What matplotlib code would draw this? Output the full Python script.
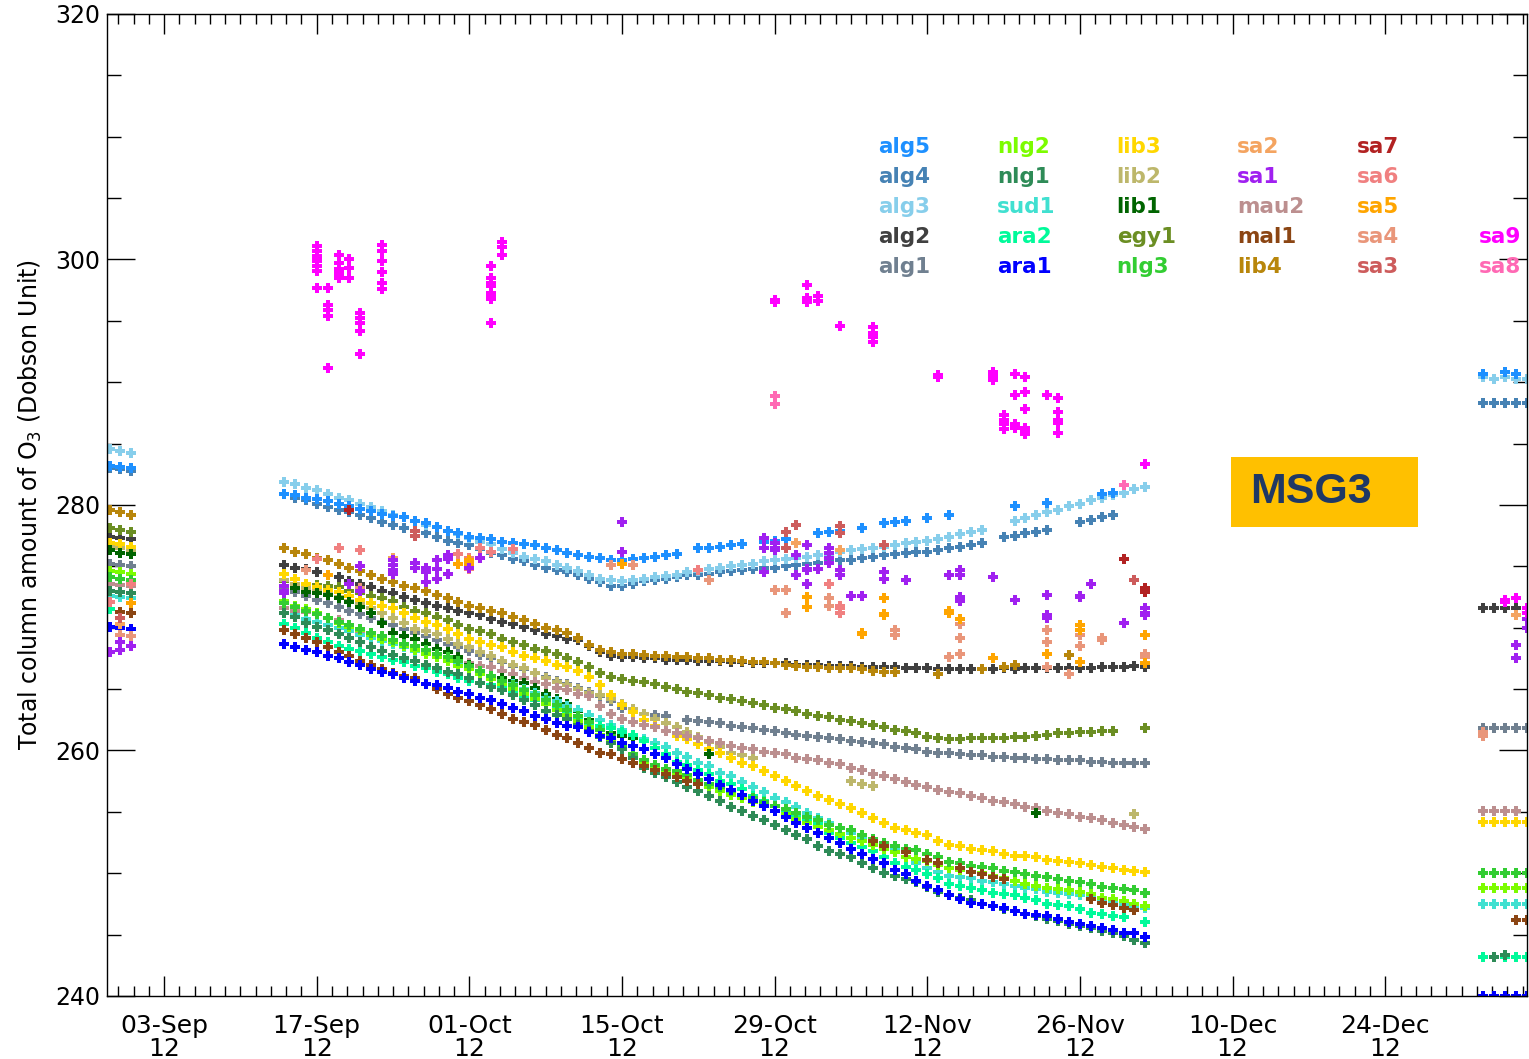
import numpy as np
import matplotlib
matplotlib.use("Agg")
import matplotlib.pyplot as plt
import matplotlib.dates as mdates
from matplotlib.patches import Rectangle

nan = np.nan

# observation days: Aug 29-31, Sep 14 - Dec 2, Jan 2-6
days = np.concatenate([
    np.arange("2012-08-29", "2012-09-01", dtype="datetime64[D]"),
    np.arange("2012-09-14", "2012-12-03", dtype="datetime64[D]"),
    np.arange("2013-01-02", "2013-01-07", dtype="datetime64[D]"),
])
start = np.datetime64("2012-09-14")

# per-station series (aug | sep14..dec2 | jan), Dobson units
alg5 = [283.2, 283.1, 283.0,
        280.9, 280.8, 280.6, 280.5, 280.3, 280.1, 279.9, 279.7, 279.5, 279.3,
        279.1, 279.0, 278.7, 278.5, 278.2, 277.9, 277.7, 277.4, 277.3, 277.2,
        277.0, 276.9, 276.8, 276.7, 276.5, 276.3, 276.1, 275.9, 275.8, 275.7,
        275.5, 275.5, 275.6, 275.7, 275.8, 275.9, 276.0, nan, 276.5, 276.5,
        276.6, 276.7, 276.8, nan, 277.0, 277.1, 277.2, nan, nan, 277.7,
        277.8, 277.9, nan, 278.1, nan, 278.5, 278.6, 278.7, nan, 278.9,
        nan, 279.2, nan, nan, nan, nan, nan, 279.9, nan, nan,
        280.2, nan, nan, nan, nan, 280.9, 281.0, nan, nan, nan,
        290.7, nan, 290.8, 290.7, nan]
alg4 = [283.0, 282.9, 282.8,
        280.9, 280.6, 280.4, 280.1, 279.8, 279.6, 279.4, 279.2, 278.9, 278.6,
        278.4, 278.1, 277.9, 277.7, 277.4, 277.1, 276.9, 276.7, 276.4, 276.1,
        275.9, 275.6, 275.4, 275.1, 274.9, 274.7, 274.5, 274.3, 274.0, 273.7,
        273.4, 273.4, 273.6, 273.8, 273.9, 274.0, 274.1, 274.3, 274.3, 274.4,
        274.5, 274.6, 274.7, 274.8, 274.9, 274.9, 275.0, 275.1, 275.2, 275.3,
        275.4, 275.5, 275.5, 275.7, 275.8, 275.9, 276.0, 276.1, 276.2, 276.2,
        276.3, 276.5, 276.6, 276.7, 276.9, nan, 277.4, 277.5, 277.7, 277.8,
        278.0, nan, nan, 278.6, 278.8, 279.0, 279.2, nan, nan, nan,
        288.3, 288.3, 288.3, 288.3, 288.3]
alg3 = [284.6, 284.4, 284.2,
        281.9, 281.7, 281.4, 281.2, 280.9, 280.6, 280.4, 280.1, 279.8, 279.5,
        279.2, 279.0, 278.7, 278.4, 278.2, 277.9, 277.6, 277.3, 277.0, 276.8,
        276.4, 276.1, 275.8, 275.6, 275.4, 275.1, 274.9, 274.6, 274.3, 274.0,
        273.9, 273.8, 273.9, 274.0, 274.1, 274.2, 274.3, 274.5, 274.6, 274.8,
        274.9, 275.0, 275.1, 275.2, 275.4, 275.5, 275.6, 275.7, 275.8, 275.9,
        276.0, 276.2, 276.3, 276.4, 276.5, 276.6, 276.7, 276.9, 277.0, 277.1,
        277.2, 277.4, 277.6, 277.8, 278.0, nan, nan, 278.7, 278.9, 279.2,
        279.4, 279.6, 279.9, 280.1, 280.4, 280.6, 280.8, 281.0, 281.3, 281.5,
        290.4, 290.3, 290.4, 290.3, 290.3]
alg2 = [277.4, 277.3, 277.2,
        275.1, 274.9, 274.8, 274.5, 274.3, 274.1, 273.8, 273.6, 273.3, 273.0,
        272.8, 272.5, 272.3, 272.0, 271.8, 271.6, 271.4, 271.2, 271.0, 270.7,
        270.5, 270.3, 270.1, 269.8, 269.5, 269.3, 269.1, 269.0, 268.5, 268.0,
        267.7, 267.6, 267.6, 267.5, 267.5, 267.4, 267.4, 267.4, 267.3, 267.3,
        267.3, 267.2, 267.2, 267.1, 267.1, 267.1, 267.1, 267.0, 267.0, 267.0,
        266.9, 266.9, 266.9, 266.8, 266.8, 266.8, 266.8, 266.7, 266.7, 266.7,
        266.6, 266.6, 266.6, 266.6, 266.6, 266.6, 266.7, 266.6, 266.7, 266.7,
        266.7, 266.7, 266.7, 266.7, 266.7, 266.8, 266.8, 266.8, 266.9, 266.8,
        271.6, 271.6, 271.6, 271.6, 271.6]
alg1 = [275.2, 275.1, 275.0,
        273.2, 272.9, 272.6, 272.3, 272.0, 271.7, 271.4, 271.1, 270.8, 270.5,
        270.2, 269.9, 269.6, 269.3, 269.0, 268.7, 268.4, 268.1, 267.8, 267.5,
        267.2, 266.9, 266.6, 266.3, 266.0, 265.7, 265.4, 265.1, 264.8, 264.4,
        264.0, 263.5, 263.2, 263.0, 262.9, 262.8, nan, 262.5, 262.4, 262.3,
        262.2, 262.0, 261.9, 261.8, 261.7, 261.6, 261.4, 261.3, 261.2, 261.1,
        261.0, 260.9, 260.8, 260.7, 260.6, 260.5, 260.3, 260.2, 260.1, 259.9,
        259.8, 259.8, 259.7, 259.6, 259.6, 259.5, 259.5, 259.4, 259.4, 259.3,
        259.3, 259.2, 259.2, 259.2, 259.1, 259.1, 259.0, 259.0, 259.0, 259.0,
        261.8, 261.8, 261.8, 261.8, 261.8]
lib4 = [279.6, 279.4, 279.2,
        276.5, 276.2, 276.0, 275.7, 275.5, 275.2, 274.9, 274.6, 274.3, 274.0,
        273.7, 273.4, 273.2, 273.0, 272.7, 272.4, 272.1, 271.8, 271.6, 271.4,
        271.2, 270.9, 270.6, 270.3, 270.0, 269.8, 269.6, 269.2, 268.6, 268.2,
        268.0, 267.9, 267.9, 267.8, 267.7, 267.7, 267.6, 267.6, 267.5, 267.5,
        267.4, 267.4, 267.3, 267.2, 267.2, 267.1, 267.0, 266.9, 266.8, 266.8,
        266.7, 266.7, 266.7, 266.6, 266.5, 266.4, 266.4, nan, nan, nan,
        266.2, nan, nan, nan, 266.6, nan, 266.8, 267.0, nan, nan,
        nan, nan, 267.8, nan, nan, nan, nan, nan, nan, nan,
        nan, nan, nan, nan, nan]
egy1 = [278.1, 278.0, 277.8,
        273.8, 273.6, 273.5, 273.5, 273.4, 273.3, 273.0, 272.8, 272.6, 272.4,
        272.2, 271.7, 271.4, 271.2, 270.9, 270.6, 270.2, 269.9, 269.7, 269.5,
        269.1, 268.8, 268.6, 268.3, 268.1, 267.9, 267.5, 267.2, 266.8, 266.3,
        266.0, 265.8, 265.7, 265.6, 265.4, 265.2, 265.0, 264.8, 264.7, 264.5,
        264.3, 264.2, 264.0, 263.9, 263.7, 263.5, 263.4, 263.2, 263.0, 262.8,
        262.7, 262.5, 262.4, 262.2, 262.1, 261.9, 261.7, 261.6, 261.4, 261.1,
        261.0, 260.9, 260.9, 261.0, 261.0, 261.0, 261.0, 261.1, 261.1, 261.2,
        261.3, 261.4, 261.4, 261.5, 261.5, 261.6, 261.6, nan, nan, 261.8,
        nan, nan, nan, nan, nan]
lib3 = [276.9, 276.8, 276.6,
        274.4, 274.0, 273.6, 273.3, 273.1, 272.9, 272.6, 272.3, 272.0, 271.8,
        271.6, 271.2, 270.8, 270.5, 270.2, 269.9, 269.5, 269.1, 268.8, 268.6,
        268.4, 268.0, 267.7, 267.5, 267.3, 267.0, 266.8, 266.5, 266.0, 265.3,
        264.5, 263.7, 263.1, 262.5, 262.0, 261.6, 261.2, 260.9, 260.5, 260.1,
        259.8, 259.4, 259.0, 258.7, 258.3, 257.9, 257.5, 257.1, 256.7, 256.3,
        256.0, 255.6, 255.3, 254.9, 254.5, 254.1, 253.7, 253.5, 253.3, 253.1,
        252.6, 252.3, 252.2, 252.0, 251.9, 251.8, 251.6, 251.4, 251.4, 251.3,
        251.1, 251.0, 250.9, 250.8, 250.7, 250.5, 250.4, 250.3, 250.2, 250.1,
        254.2, 254.2, 254.2, 254.2, 254.2]
lib2 = [276.6, 276.5, 276.3,
        273.9, 273.6, 273.2, 273.0, 272.8, 272.5, 272.2, 271.9, 271.6, 271.2,
        270.8, 270.4, 269.9, 269.7, 269.5, 269.1, 268.7, 268.4, 268.0, 267.7,
        267.3, 267.0, 266.7, 266.3, 265.9, 265.6, 265.3, 265.0, 264.7, 264.5,
        264.2, 263.8, 263.4, 263.0, 262.6, 262.2, 261.9, 261.5, 261.1, 260.7,
        260.3, 259.8, 259.6, 259.4, nan, nan, nan, nan, nan, nan,
        nan, nan, 257.5, 257.3, 257.1, nan, nan, nan, nan, nan,
        nan, nan, nan, nan, nan, nan, nan, nan, nan, nan,
        nan, nan, nan, nan, nan, nan, nan, nan, 254.8, nan,
        nan, nan, nan, nan, nan]
lib1 = [276.3, 276.1, 276.0,
        273.4, 273.2, 272.9, 272.8, 272.7, 272.4, 272.1, 271.7, 271.2, 270.4,
        269.6, 269.3, 269.1, 268.7, 268.3, 268.0, 267.6, 267.0, 266.3, 266.1,
        265.9, 265.7, 265.5, 265.1, 264.6, 264.2, 263.8, 263.2, 262.5, 261.9,
        261.4, 261.2, 261.0, 260.8, 260.6, nan, nan, nan, nan, 259.7,
        nan, nan, nan, nan, nan, nan, nan, nan, nan, nan,
        nan, nan, nan, nan, nan, nan, nan, nan, nan, nan,
        nan, nan, nan, nan, nan, nan, nan, nan, nan, 254.9,
        nan, nan, nan, nan, nan, nan, nan, nan, nan, nan,
        nan, nan, nan, nan, nan]
mau2 = [273.6, 273.5, 273.4,
        271.6, 271.4, 271.3, 271.1, 270.8, 270.6, 270.0, 269.6, 269.3, 269.0,
        268.7, 268.4, 268.2, 268.0, 267.7, 267.5, 267.3, 267.1, 266.9, 266.8,
        266.5, 266.2, 265.9, 265.6, 265.4, 265.1, 264.9, 264.6, 264.4, 263.6,
        263.0, 262.6, 262.3, 262.1, 261.9, 261.6, 261.4, 261.2, 261.0, 260.8,
        260.6, 260.4, 260.2, 260.1, 259.9, 259.8, 259.7, 259.4, 259.3, 259.2,
        259.0, 258.9, 258.6, 258.4, 258.1, 257.9, 257.7, 257.4, 257.2, 257.0,
        256.8, 256.6, 256.5, 256.3, 256.1, 255.9, 255.8, 255.6, 255.4, 255.3,
        255.1, 254.9, 254.8, 254.6, 254.5, 254.3, 254.1, 253.9, 253.8, 253.6,
        255.1, 255.1, 255.1, 255.1, nan]
nlg3 = [274.1, 274.0, 273.9,
        272.0, 271.7, 271.4, 271.1, 270.8, 270.5, 270.2, 269.9, 269.6, 269.3,
        269.0, 268.7, 268.5, 268.2, 267.9, 267.6, 267.3, 266.9, 266.5, 266.1,
        265.7, 265.3, 264.9, 264.5, 264.1, 263.7, 263.3, 262.8, 262.3, 261.7,
        261.2, 260.4, 259.7, 259.2, 258.8, 258.5, 258.3, 258.0, 257.6, 257.3,
        257.0, 256.7, 256.4, 256.1, 255.8, 255.5, 255.2, 254.9, 254.6, 254.3,
        253.9, 253.7, 253.5, 253.1, 252.8, 252.5, 252.2, 252.0, 251.9, 251.6,
        251.3, 250.9, 250.8, 250.6, 250.5, 250.4, 250.2, 250.1, 249.9, 249.8,
        249.7, 249.5, 249.4, 249.3, 249.1, 248.9, 248.8, 248.7, 248.6, 248.4,
        250.0, 250.0, 250.0, 250.0, 250.0]
nlg2 = [274.6, 274.5, 274.4,
        272.2, 271.8, 271.5, 271.2, 270.8, 270.4, 270.1, 269.8, 269.4, 269.1,
        268.8, 268.5, 268.2, 267.9, 267.6, 267.3, 266.9, 266.6, 266.2, 265.8,
        265.4, 265.0, 264.6, 264.2, 263.8, 263.3, 262.9, 262.4, 261.9, 261.3,
        260.8, 260.2, 259.6, 259.1, 258.6, 258.3, 258.0, 257.7, 257.3, 257.0,
        256.7, 256.4, 256.1, 255.8, 255.5, 255.1, 254.8, 254.4, 254.1, 253.8,
        253.5, 253.2, 252.9, 252.6, 252.3, 252.0, 251.7, 251.3, 251.2, 251.0,
        250.7, 250.4, 250.3, 250.1, 250.0, 249.8, 249.6, 249.4, 249.1, 249.0,
        248.8, 248.7, 248.6, 248.5, 248.3, 248.0, 247.9, 247.7, 247.5, 247.3,
        248.8, 248.8, 248.8, 248.8, 248.8]
sud1 = [272.6, 272.5, 272.4,
        271.2, 271.0, 270.7, 270.5, 270.2, 270.0, 269.7, 269.4, 269.2, 268.9,
        268.7, 268.4, 268.1, 267.9, 267.6, 267.3, 267.0, 266.7, 266.4, 266.1,
        265.7, 265.4, 265.0, 264.7, 264.3, 264.0, 263.6, 263.3, 262.9, 262.5,
        262.1, 261.7, 261.3, 260.9, 260.6, 260.3, 259.8, 259.5, 259.0, 258.7,
        258.2, 257.9, 257.4, 257.0, 256.6, 256.1, 255.8, 255.4, 254.9, 254.5,
        254.1, 253.7, 253.3, 252.9, 252.6, 252.2, 252.0, 251.3, 250.8, 250.4,
        250.1, 249.8, 249.7, 249.6, 249.4, 249.3, 249.1, 249.0, 248.8, 248.7,
        248.5, 248.4, 248.3, 248.2, 248.0, 247.7, 247.6, 247.5, 247.3, 247.2,
        247.5, 247.5, 247.5, 247.5, 247.5]
ara2 = [271.5, 271.3, nan,
        270.3, 270.0, 269.6, 269.2, 268.8, 268.5, 268.3, 268.1, 267.9, 267.6,
        267.4, 267.2, 266.9, 266.7, 266.4, 266.2, 265.9, 265.7, 265.5, 265.3,
        265.1, 264.8, 264.4, 264.1, 263.8, 263.4, 263.0, 262.6, 262.2, 262.0,
        261.8, 261.5, 261.3, 260.8, 260.2, 259.7, 259.1, 258.8, 258.4, 258.1,
        257.5, 257.3, 256.9, 256.3, 255.9, 255.5, 255.1, 254.7, 254.3, 254.0,
        253.3, 252.9, 252.5, 252.1, 251.8, 251.3, 250.8, 250.5, 250.3, 249.9,
        249.6, 249.1, 249.0, 248.8, 248.6, 248.4, 248.3, 248.2, 248.0, 247.8,
        247.5, 247.4, 247.3, 247.1, 246.8, 246.7, 246.5, 246.4, nan, 246.0,
        243.2, 243.2, 243.2, 243.2, 243.2]
nlg1 = [273.0, 272.9, 272.8,
        271.2, 270.9, 270.4, 270.1, 269.8, 269.5, 269.2, 268.8, 268.4, 268.1,
        267.8, 267.5, 267.3, 267.0, 266.7, 266.4, 266.2, 265.9, 265.5, 265.2,
        264.9, 264.5, 264.1, 263.7, 263.2, 262.9, 262.6, 262.1, 261.6, 261.1,
        260.6, 260.1, 259.4, 258.6, 258.2, 257.8, 257.4, 257.0, 256.7, 256.3,
        255.9, 255.4, 255.1, 254.7, 254.3, 253.9, 253.5, 253.1, 252.8, 252.2,
        251.8, 251.6, 251.3, 250.8, 250.4, 250.0, 249.8, 249.5, 249.3, 248.9,
        248.5, 248.2, 248.0, 247.8, 247.5, 247.3, 247.1, 246.9, 246.7, 246.5,
        246.3, 246.1, 245.9, 245.7, 245.5, 245.3, 245.1, 244.9, 244.6, 244.3,
        nan, 243.2, 243.3, nan, nan]
ara1 = [270.1, 270.0, 269.9,
        268.7, 268.4, 268.2, 268.0, 267.7, 267.5, 267.2, 267.0, 266.6, 266.4,
        266.2, 265.9, 265.7, 265.4, 265.3, 265.1, 264.8, 264.6, 264.3, 264.1,
        263.8, 263.5, 263.2, 262.8, 262.6, 262.2, 262.0, 261.9, 261.5, 261.2,
        261.0, 260.6, 260.4, 260.1, 259.7, 259.4, 258.9, 258.5, 258.1, 257.7,
        257.2, 256.8, 256.4, 255.9, 255.5, 255.1, 254.6, 254.1, 253.7, 253.3,
        252.9, 252.5, 252.0, 251.6, 251.2, 250.8, 250.3, 249.9, 249.4, 249.0,
        248.6, 248.2, 247.9, 247.6, 247.5, 247.3, 247.2, 246.9, 246.7, 246.6,
        246.5, 246.3, 246.0, 245.9, 245.7, 245.5, 245.4, 245.1, 245.1, 244.8,
        240.0, 240.0, 240.0, 240.0, 240.0]
mal1 = [nan, 271.3, 271.2,
        269.8, 269.5, 269.2, 268.8, 268.4, 268.0, 267.7, 267.3, 267.0, 266.6,
        266.3, 266.1, 265.9, 265.4, 265.0, 264.6, 264.3, 264.0, 263.7, 263.4,
        263.0, 262.6, 262.3, 262.1, 261.7, 261.3, 261.0, 260.6, 260.2, 259.8,
        259.7, 259.3, 259.0, 258.7, 258.4, 258.1, 257.8, 257.5, 257.3, nan,
        nan, nan, nan, nan, nan, nan, nan, nan, nan, nan,
        nan, nan, nan, nan, 252.6, 252.2, nan, 251.7, nan, 251.1,
        250.8, nan, 250.4, 250.1, 249.9, 249.7, 249.5, nan, nan, nan,
        nan, nan, nan, nan, 247.9, 247.6, 247.4, 247.2, 247.0, nan,
        nan, nan, nan, 246.2, 246.2]

# sparse stations: day offset from 14 Sep 2012, value
sa1_day = [-16, -15, -15, -14, 0, 0, 0, 6, 7, 7, 10, 10, 10, 10, 12, 12,
           13, 13, 13, 14, 14, 14, 15, 15, 15, 17, 18, 31, 31, 44, 44, 44,
           45, 45, 45, 47, 47, 48, 48, 48, 48, 49, 50, 50, 50, 50, 51, 51,
           52, 53, 55, 55, 57, 61, 62, 62, 62, 62, 65, 67, 70, 70, 70, 73,
           73, 74, 77, 79, 79, 79, 113, 113, 114, 114]
sa1_val = [268.0, 268.8, 268.2, 268.5, 273.4, 273.0, 272.8, 273.6, 275.0,
           273.0, 275.5, 275.1, 274.7, 274.4, 275.3, 274.9, 274.9, 274.5,
           273.7, 275.5, 274.8, 274.0, 275.9, 275.6, 274.4, 274.9, 275.7,
           278.6, 276.2, 277.3, 276.5, 274.5, 276.9, 276.5, 276.3, 275.9,
           274.3, 276.7, 274.8, 274.7, 273.6, 274.8, 276.5, 276.1, 275.7,
           275.3, 274.7, 274.3, 272.6, 272.6, 274.5, 274.0, 273.9, 274.3,
           274.7, 274.3, 272.5, 272.2, 274.1, 272.3, 272.7, 271.0, 270.8,
           272.6, 272.5, 273.6, 270.4, 271.6, 271.2, 271.0, 268.6, 267.5,
           270.7, 270.0]
sa2_day = [-15, 10, 47, 51, 113]
sa2_val = [270.3, 275.7, 276.9, 276.3, 271.0]
sa3_day = [-15, 12, 12, 46, 46, 47, 51, 51, 55, 73, 78]
sa3_val = [270.8, 277.9, 277.5, 277.8, 276.5, 278.4, 278.3, 277.7, 276.7,
           272.6, 273.9]
sa4_day = [-15, -14, 2, 7, 30, 32, 39, 45, 46, 46, 50, 50, 56, 56, 61, 62,
           62, 62, 70, 70, 70, 72, 73, 73, 75, 75, 79, 79, 110, 110]
sa4_val = [269.4, 269.3, 274.7, 273.2, 275.1, 275.1, 273.9, 273.1, 273.1,
           271.2, 272.4, 271.8, 269.8, 269.4, 267.6, 270.3, 269.2, 267.9,
           269.8, 268.8, 266.8, 266.2, 269.4, 268.5, 269.2, 269.0, 267.9,
           267.6, 261.5, 261.2]
sa5_day = [-14, 4, 16, 17, 17, 31, 48, 48, 53, 53, 55, 55, 55, 61, 61, 62,
           65, 70, 73, 73, 73, 79, 79]
sa5_val = [272.0, 274.3, 275.2, 275.5, 275.2, 275.2, 272.5, 271.7, 269.6,
           269.5, 272.4, 271.1, 271.0, 271.4, 271.2, 270.7, 267.5, 267.9,
           270.2, 269.8, 267.2, 269.4, 267.1]
sa6_day = [-16, -14, 3, 5, 7, 16, 17, 17, 18, 19, 21, 38, 50, 51, 51, 51]
sa6_val = [272.1, 273.6, 275.6, 276.5, 276.3, 276.0, 275.7, 274.8, 276.5,
           276.2, 276.4, 274.7, 273.6, 271.8, 271.6, 271.2]
sa7_day = [6, 77, 79, 79]
sa7_val = [279.6, 275.6, 273.2, 272.9]
sa8_day = [45, 45, 77]
sa8_val = [288.9, 288.2, 281.6]
sa9_day = [3, 3, 3, 3, 3, 3, 3, 3, 4, 4, 4, 4, 4, 5, 5, 5, 5, 5, 5, 6, 6, 6,
           7, 7, 7, 7, 7, 9, 9, 9, 9, 9, 9, 19, 19, 19, 19, 19, 19, 19, 19,
           20, 20, 20, 45, 45, 48, 48, 48, 49, 49, 51, 54, 54, 54, 54, 60,
           60, 65, 65, 65, 66, 66, 66, 66, 67, 67, 67, 67, 68, 68, 68, 68,
           68, 68, 70, 71, 71, 71, 71, 71, 79, 112, 112, 113, 114, 114]
sa9_val = [301.1, 300.7, 300.3, 300.1, 299.9, 299.5, 299.1, 297.7, 297.7,
           296.3, 295.9, 295.4, 291.2, 300.4, 299.7, 299.2, 298.9, 298.7,
           298.5, 300.0, 299.3, 298.5, 295.6, 295.2, 294.8, 294.2, 292.3,
           301.2, 300.7, 299.9, 299.0, 298.1, 297.6, 299.5, 298.5, 298.1,
           297.8, 297.3, 297.1, 296.8, 294.8, 301.4, 301.0, 300.4, 296.7,
           296.5, 297.9, 296.9, 296.5, 297.0, 296.6, 294.6, 294.5, 294.0,
           293.7, 293.3, 290.6, 290.4, 290.8, 290.5, 290.2, 287.3, 286.9,
           286.6, 286.2, 290.7, 289.0, 286.6, 286.3, 290.4, 289.2, 287.8,
           286.3, 286.1, 285.8, 289.0, 288.7, 287.6, 286.9, 286.7, 285.9,
           283.3, 272.3, 272.1, 272.4, 271.6, 271.2]

colors = {
    "alg5": "#1e90ff", "alg4": "#4682b4", "alg3": "#87ceeb", "alg2": "#404040",
    "alg1": "#708090", "nlg2": "#7cfc00", "nlg1": "#2e8b57", "sud1": "#40e0d0",
    "ara2": "#00fa9a", "ara1": "#0000ff", "lib3": "#ffd700", "lib2": "#bdb76b",
    "lib1": "#006400", "egy1": "#6b8e23", "nlg3": "#32cd32", "sa2": "#f4a460",
    "sa1": "#a020f0", "mau2": "#bc8f8f", "mal1": "#8b4513", "lib4": "#b8860b",
    "sa7": "#b22222", "sa6": "#f08080", "sa5": "#ffa500", "sa4": "#e9967a",
    "sa3": "#cd5c5c", "sa9": "#ff00ff", "sa8": "#ff69b4",
}

daily = [("alg1", alg1), ("alg2", alg2), ("lib4", lib4), ("egy1", egy1),
         ("lib2", lib2), ("lib3", lib3), ("mau2", mau2), ("lib1", lib1),
         ("sud1", sud1), ("ara2", ara2), ("nlg2", nlg2), ("nlg3", nlg3),
         ("nlg1", nlg1), ("mal1", mal1), ("ara1", ara1),
         ("alg4", alg4), ("alg3", alg3), ("alg5", alg5)]
sparse = [("sa2", sa2_day, sa2_val), ("sa3", sa3_day, sa3_val),
          ("sa4", sa4_day, sa4_val), ("sa6", sa6_day, sa6_val),
          ("sa5", sa5_day, sa5_val), ("sa7", sa7_day, sa7_val),
          ("sa1", sa1_day, sa1_val), ("sa8", sa8_day, sa8_val),
          ("sa9", sa9_day, sa9_val)]

legend_cols = [["alg5", "alg4", "alg3", "alg2", "alg1"],
               ["nlg2", "nlg1", "sud1", "ara2", "ara1"],
               ["lib3", "lib2", "lib1", "egy1", "nlg3"],
               ["sa2", "sa1", "mau2", "mal1", "lib4"],
               ["sa7", "sa6", "sa5", "sa4", "sa3"],
               [None, None, None, "sa9", "sa8"]]

fig = plt.figure(figsize=(15.29, 10.59), dpi=100)
ax = fig.add_axes([0.0700, 0.0595, 0.9287, 0.9273])

mk = dict(marker="P", linestyle="none", markersize=7.5, markeredgewidth=0)
for name, vals in daily:
    ax.plot(days, vals, color=colors[name], **mk)
for name, d, v in sparse:
    ax.plot(start + np.array(d), v, color=colors[name], **mk)

# station legend as coloured labels
col_x = [0.543, 0.627, 0.711, 0.796, 0.880, 0.966]
row_y = [0.8646, 0.8340, 0.8035, 0.7730, 0.7424]
for cx, names in zip(col_x, legend_cols):
    for ry, name in zip(row_y, names):
        if name:
            ax.text(cx, ry, name, transform=ax.transAxes, color=colors[name],
                    fontsize=15.5, fontweight="bold", va="center", ha="left")

ax.add_patch(Rectangle((0.7915, 0.4776), 0.1317, 0.0713, transform=ax.transAxes,
                       facecolor="#ffc000", edgecolor="none", zorder=3))
ax.text(0.805, 0.513, "MSG3", transform=ax.transAxes, color="#1f3864",
        fontsize=31, fontweight="bold", family="Liberation Sans",
        va="center", ha="left", zorder=4)

t0 = mdates.date2num(np.datetime64("2012-09-03"))
ax.set_xlim(t0 - 5.23, t0 + 125.0)
ax.set_ylim(240, 320)
ax.xaxis.set_major_locator(matplotlib.ticker.FixedLocator(t0 + 14 * np.arange(9)))
ax.xaxis.set_minor_locator(matplotlib.ticker.FixedLocator(t0 + 1.4 * np.arange(-3, 90)))
ax.xaxis.set_major_formatter(mdates.DateFormatter("%d-%b\n%y"))
ax.yaxis.set_major_locator(matplotlib.ticker.MultipleLocator(20))
ax.yaxis.set_minor_locator(matplotlib.ticker.MultipleLocator(5))

ax.tick_params(which="both", direction="in", top=True, right=True, width=1.0)
ax.tick_params(axis="x", which="major", length=14.4, pad=13, labelsize=18)
ax.tick_params(axis="x", which="minor", length=7.2)
ax.tick_params(axis="y", which="major", length=20, pad=5, labelsize=17)
ax.tick_params(axis="y", which="minor", length=10)
for lab in ax.get_xticklabels():
    lab.set_linespacing(0.95)
for sp in ax.spines.values():
    sp.set_linewidth(1.0)

ax.set_ylabel("Total column amount of O$_3$ (Dobson Unit)", fontsize=17, labelpad=8)

fig.savefig("out.png", dpi=100)
